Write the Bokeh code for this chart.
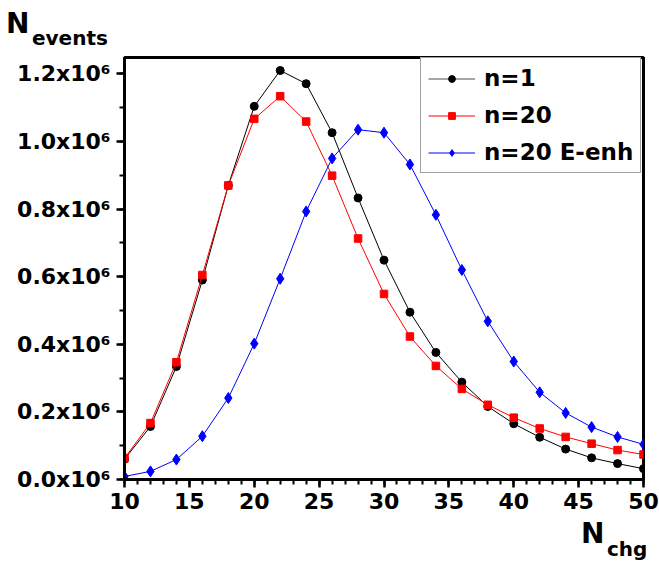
from bokeh.plotting import figure
from bokeh.models import Range1d, FixedTicker, Legend, LegendItem, Div
from bokeh.layouts import column
from bokeh.embed import file_html
from bokeh.resources import INLINE

# ---- data ----
n_chg = [10, 12, 14, 16, 18, 20, 22, 24, 26, 28, 30, 32, 34, 36, 38, 40, 42, 44, 46, 48, 50]
n1 = [0.060e6, 0.157e6, 0.334e6, 0.590e6, 0.870e6, 1.104e6, 1.210e6, 1.171e6, 1.026e6, 0.833e6,
      0.649e6, 0.495e6, 0.376e6, 0.288e6, 0.216e6, 0.165e6, 0.125e6, 0.090e6, 0.064e6, 0.047e6, 0.032e6]
n20 = [0.063e6, 0.167e6, 0.347e6, 0.605e6, 0.870e6, 1.067e6, 1.134e6, 1.059e6, 0.899e6, 0.713e6,
       0.549e6, 0.423e6, 0.336e6, 0.268e6, 0.221e6, 0.183e6, 0.151e6, 0.126e6, 0.106e6, 0.087e6, 0.074e6]
n20e = [0.009e6, 0.024e6, 0.059e6, 0.128e6, 0.241e6, 0.402e6, 0.594e6, 0.793e6, 0.950e6, 1.035e6,
        1.026e6, 0.932e6, 0.783e6, 0.620e6, 0.468e6, 0.349e6, 0.258e6, 0.197e6, 0.155e6, 0.126e6, 0.104e6]
series_names = ["n=1", "n=20", "n=20 E-enh"]
x_ticks = [10, 15, 20, 25, 30, 35, 40, 45, 50]
y_ticks = [0, 200000, 400000, 600000, 800000, 1000000, 1200000]
y_tick_labels = ["0.0x10⁶", "0.2x10⁶", "0.4x10⁶", "0.6x10⁶", "0.8x10⁶", "1.0x10⁶", "1.2x10⁶"]
y_title, y_title_sub = "N", "events"
x_title, x_title_sub = "N", "chg"

FONT = "DejaVu Sans"

p = figure(width=659, height=464, output_backend="svg", toolbar_location=None,
           x_range=Range1d(10, 50), y_range=Range1d(0, 1.2485e6),
           min_border_left=124, min_border_right=16, min_border_top=2, min_border_bottom=40,
           margin=(0, 0, 0, 0))
p.grid.visible = False
p.outline_line_color = "black"
p.outline_line_width = 3

p.xaxis.ticker = FixedTicker(ticks=x_ticks, minor_ticks=list(range(10, 51)))
p.yaxis.ticker = FixedTicker(ticks=y_ticks, minor_ticks=[k * 100000 for k in range(13)])
p.yaxis.major_label_overrides = {t: s for t, s in zip(y_ticks, y_tick_labels)}

for ax in (p.xaxis, p.yaxis):
    ax.axis_line_width = 3
    ax.major_tick_line_width = 2.5
    ax.minor_tick_line_width = 2
    ax.major_tick_in = 0
    ax.major_tick_out = 8
    ax.minor_tick_in = 0
    ax.minor_tick_out = 5
    ax.major_label_text_font = FONT
    ax.major_label_text_font_style = "bold"
    ax.major_label_text_font_size = "22px"
    ax.major_label_text_color = "black"
    ax.major_label_standoff = 6
p.xaxis.major_label_standoff = 5

p.line(n_chg, n1, line_color="black", line_width=1)
p.scatter(n_chg, n1, marker="circle", size=8, fill_color="black", line_color="black")
p.line(n_chg, n20, line_color="red", line_width=1)
p.scatter(n_chg, n20, marker="square", size=7.5, fill_color="red", line_color="red")
p.line(n_chg, n20e, line_color="blue", line_width=1)
p.scatter(n_chg, n20e, marker="diamond", size=11, fill_color="blue", line_color="blue")

# legend key samples (hidden renderers; grey line for n=1 as in the key)
kl1 = p.line(n_chg, n1, line_color="#888888", line_width=1.5, visible=False)
ks1 = p.scatter(n_chg, n1, marker="circle", fill_color="black", line_color="black", visible=False)
kl2 = p.line(n_chg, n20, line_color="red", line_width=1, visible=False)
ks2 = p.scatter(n_chg, n20, marker="square", fill_color="red", line_color="red", visible=False)
kl3 = p.line(n_chg, n20e, line_color="blue", line_width=1, visible=False)
ks3 = p.scatter(n_chg, n20e, marker="diamond", fill_color="blue", line_color="blue", visible=False)

legend = Legend(items=[LegendItem(label=series_names[0], renderers=[kl1, ks1]),
                       LegendItem(label=series_names[1], renderers=[kl2, ks2]),
                       LegendItem(label=series_names[2], renderers=[kl3, ks3])],
                location=(296, 306), margin=0, padding=7, spacing=11,
                glyph_width=47, glyph_height=17, label_standoff=9,
                label_text_font=FONT, label_text_font_style="bold", label_text_font_size="23px",
                label_text_color="black",
                border_line_color="#444444", border_line_width=1.5, background_fill_alpha=1)
p.add_layout(legend)

span = "position:absolute;white-space:nowrap;line-height:normal;font-family:'DejaVu Sans';font-weight:bold;color:black;"
top_html = (f'<div style="position:relative;width:659px;height:55px;">'
            f'<span style="{span}left:6px;top:7px;font-size:28px;">{y_title}</span>'
            f'<span style="{span}left:32px;top:26px;font-size:20px;">{y_title_sub}</span></div>')
bottom_html = (f'<div style="position:relative;width:659px;height:45px;">'
               f'<span style="{span}left:581px;top:-2px;font-size:28px;">{x_title}</span>'
               f'<span style="{span}left:607px;top:18px;font-size:20px;">{x_title_sub}</span></div>')
top_div = Div(text=top_html, width=659, height=55, margin=(0, 0, 0, 0))
bottom_div = Div(text=bottom_html, width=659, height=45, margin=(0, 0, 0, 0))

layout = column(top_div, p, bottom_div, spacing=0, margin=(0, 0, 0, 0))
open("out.html", "w").write(file_html(layout, INLINE))
